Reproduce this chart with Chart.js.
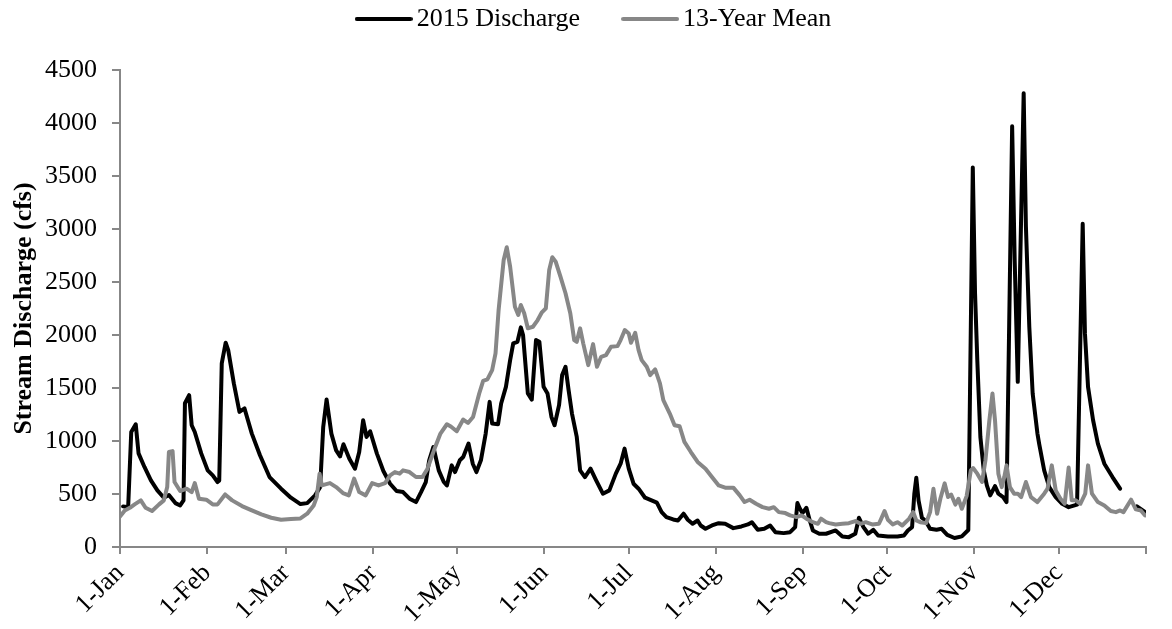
<!DOCTYPE html>
<html>
<head>
<meta charset="utf-8">
<script src="https://cdn.jsdelivr.net/npm/chart.js@4"></script>
<style>
html,body{margin:0;padding:0;background:#fff;}
#wrap{width:1172px;height:629px;position:relative;}
</style>
</head>
<body>
<div id="wrap"><canvas id="c"></canvas></div>
<script>
// ---- Data (day of year, 0 = 1-Jan) ----
const monthStarts = [0, 31, 59, 90, 120, 151, 181, 212, 243, 273, 304, 334];
const monthLabels = ['1-Jan','1-Feb','1-Mar','1-Apr','1-May','1-Jun','1-Jul','1-Aug','1-Sep','1-Oct','1-Nov','1-Dec'];
const yearEnd = 365;
const yTickValues = [0, 500, 1000, 1500, 2000, 2500, 3000, 3500, 4000, 4500];

const seriesNames = ['2015 Discharge', '13-Year Mean'];

const dischargeDays = [
1.1,2.9,4,5.6,6.6,8.7,11,13.3,15.6,17.4,
19.7,21.4,22.6,23.1,24.6,25.5,26.6,28.9,31.2,33,
34.7,35.3,36.2,37.6,38.5,40.5,42.5,44.3,46.9,49.8,
53.2,57.3,60.8,64.2,66.6,69.4,71.2,72.3,73.5,75.2,
76.9,78.3,79.5,81.6,83.6,85.1,86.5,87.7,89,91.4,
93.7,96.1,98.4,100.7,103,105.3,107.1,108.8,110,111.5,
113.4,115.2,116.3,118,119.2,120.9,122.1,124,125.5,126.8,
128.4,130.1,131.5,132.4,134.5,135.6,137.3,138.8,139.9,141.4,
142.6,143.4,145.1,146.5,148,149.2,150.7,152.1,153.5,154.6,
156.2,157.3,158.5,159.6,160.8,162.5,163.7,165.4,167.4,169.4,
171.8,174.1,176.4,178.1,179.5,181,182.7,184.5,186.8,191,
192.7,194.4,196.8,198.5,200.5,202,203.7,205.5,206.6,208.3,
210.6,213,215.3,218.2,221.1,223.4,224.8,226.9,229.2,231.3,
233.2,236.1,238.4,240.2,241,241.9,242.8,244.2,245.4,246.5,
248.8,251.2,254.6,257,259.3,261.6,262.9,264.5,266.2,268,
269.7,273.2,276.6,278.9,280.3,281.8,282.6,283.3,284.1,285.3,
286.5,288.2,290.5,292.3,294.3,296.9,299.5,301.8,303.4,304.2,
305,306.1,307.3,308.4,309.6,311.3,312.5,314.2,315.4,317.4,
318.3,319.4,321.5,322.3,323.5,324.7,326.4,327,328.8,330.6,
332.9,335.2,337.5,340.5,342.5,343.3,344.4,346.2,347.9,350.2,
353.1,355.8,358.5,361.8,364.7];

const dischargeCfs = [
383,375,1085,1158,883,755,629,534,465,490,
414,392,440,1356,1432,1149,1085,883,723,676,
613,625,1732,1927,1858,1543,1275,1307,1070,865,
660,550,465,405,414,487,565,1133,1391,1070,
912,855,969,833,739,896,1196,1038,1092,881,
717,597,528,518,456,424,518,613,818,944,
723,613,581,770,707,818,849,976,786,707,
818,1070,1369,1165,1158,1354,1511,1763,1921,1936,
2072,1999,1448,1391,1952,1936,1511,1448,1227,1149,
1338,1622,1700,1480,1259,1038,723,660,739,629,
503,534,692,786,928,739,597,550,465,418,
329,282,260,250,314,257,219,250,203,172,
203,225,219,178,194,213,234,162,172,203,
140,131,140,187,414,361,320,370,250,156,
125,125,156,99,93,125,276,187,125,162,
109,99,99,109,156,187,503,654,440,276,
250,172,162,172,115,85,100,160,3580,2394,
1763,1038,723,581,487,575,503,471,424,3970,
2708,1558,4280,3023,2078,1448,1070,976,723,565,
471,408,376,400,3050,2015,1511,1196,976,786,
660,550,null,383,329];

const meanDays = [
0,1.7,3.5,5.2,7.4,9.1,11.4,13.9,15.6,16.8,
17.4,18.7,19.4,21.4,23.7,25.5,26.6,28.1,30.7,33,
34.7,37.4,39.9,43.4,46.9,50.3,53.8,57.3,60.8,64.2,
66.6,68.9,70,71,71.8,74.7,76.9,79.3,81.4,83.3,
85.1,87.4,89.7,92,94.3,96.1,97.8,99.5,100.7,103,
105.3,107.6,109.4,111.7,114,116.3,117.7,119.8,122.1,123.8,
125.6,127.8,129.2,130.7,132.4,133.6,134.7,136.5,137.6,138.8,
140.5,141.7,142.6,143.8,145.1,146.9,148.6,150,151.5,152.7,
153.8,155,156.7,158.5,160.2,161.6,162.5,163.7,164.8,166.6,
168.3,169.7,171.2,172.9,174.7,177,178.1,179.6,181,181.8,
183.3,184.5,185.6,187.4,188.6,190.4,192.1,193.3,195.6,197.3,
199.1,200.8,203.1,205.5,208.3,210.6,213,215.3,218.2,220.5,
222.2,224,226.3,228.6,230.9,232.6,234.4,236.7,238.4,240.7,
242.5,244.2,246.5,248.3,249.4,251.2,252.3,254.6,257,259.3,
261.6,263.5,265.3,267.6,270,270.8,272,273.2,274.9,276.6,
278.3,280.7,282.2,283.3,284.7,286.8,288.2,289.4,290.7,291.9,
293.4,294.6,295.7,297.2,298.3,299.5,301.2,302.7,303.5,305,
306.7,307.9,309.3,310.4,311.3,312.5,313.7,314.6,315.4,316.6,
318.1,319.4,320.6,322.3,324.1,326.4,328.8,330,331.5,332.9,
334.6,336.1,337.5,338.6,340,341.7,343.4,344.4,345.8,347.9,
350.2,352.5,354.3,355.8,357,359.7,361.4,363.2,364.7];

const meanCfs = [
288,345,370,402,440,370,339,402,440,565,
896,905,613,528,550,518,603,456,446,402,
402,496,440,386,345,307,276,257,265,270,
314,392,471,692,581,603,565,509,487,645,
518,487,603,581,603,676,707,692,723,707,
660,660,739,912,1070,1158,1137,1092,1202,1170,
1227,1448,1567,1581,1669,1826,2236,2708,2828,2645,
2267,2189,2283,2205,2063,2078,2141,2210,2252,2614,
2734,2692,2551,2394,2205,1952,1936,2063,1921,1716,
1914,1700,1794,1810,1889,1895,1952,2047,2015,1927,
2021,1858,1763,1700,1622,1675,1543,1385,1259,1149,
1139,991,896,802,739,660,581,560,560,487,
424,446,408,376,361,376,329,320,298,282,
298,267,234,219,267,234,225,213,219,225,
245,219,234,213,219,266,339,257,213,234,
203,266,329,250,234,225,329,550,314,460,
600,471,495,400,455,361,480,723,745,692,
613,818,1196,1448,1196,692,565,660,770,565,
503,503,471,613,471,424,503,550,770,534,
456,408,749,440,440,408,503,770,503,424,
392,339,329,345,329,446,355,345,298];

// ---- Build chart ----
const FONT = "'Liberation Serif','Times New Roman',Times,serif";
Chart.defaults.font.family = FONT;
Chart.defaults.font.size = 26;
Chart.defaults.color = '#000';

const toPoints = (xs, ys) => xs.map((x, i) => ({ x: x, y: ys[i] }));
const AXIS_COLOR = '#878787';
const BLACK = '#000000';
const GRAY = '#878787';

// legend line sample (longer than the legend box so the text sits close to it)
function legendLine(color) {
  const cv = document.createElement('canvas');
  cv.width = 58; cv.height = 4;
  const g = cv.getContext('2d');
  g.fillStyle = color;
  g.beginPath();
  if (g.roundRect) { g.roundRect(0, 0, 58, 4, 2); } else { g.rect(0, 0, 58, 4); }
  g.fill();
  return cv;
}

const legendTweak = {
  id: 'legendTweak',
  beforeInit(chart) {
    const orig = chart.legend.fit;
    chart.legend.fit = function () { orig.call(this); this.height = 70; };
  },
  afterLayout(chart) {
    const l = chart.legend;
    l.left += 12; l.right += 12;
    l.top -= 44;
  }
};

new Chart(document.getElementById('c'), {
  type: 'line',
  data: {
    datasets: [
      {
        label: seriesNames[0],
        data: toPoints(dischargeDays, dischargeCfs),
        borderColor: BLACK,
        backgroundColor: BLACK,
        borderWidth: 4,
        pointRadius: 0,
        pointHoverRadius: 0,
        pointStyle: legendLine(BLACK),
        tension: 0,
        spanGaps: false,
        borderJoinStyle: 'round',
        borderCapStyle: 'round',
        order: 1
      },
      {
        label: seriesNames[1],
        data: toPoints(meanDays, meanCfs),
        borderColor: GRAY,
        backgroundColor: GRAY,
        borderWidth: 4,
        pointRadius: 0,
        pointHoverRadius: 0,
        pointStyle: legendLine(GRAY),
        tension: 0,
        borderJoinStyle: 'round',
        borderCapStyle: 'round',
        order: 0
      }
    ]
  },
  options: {
    responsive: true,
    maintainAspectRatio: false,
    animation: false,
    devicePixelRatio: 1,
    layout: { padding: { left: 0, right: 1, top: 0, bottom: 0 } },
    plugins: {
      legend: {
        position: 'top',
        labels: {
          usePointStyle: true,
          pointStyleWidth: 40,
          boxHeight: 26,
          padding: 50,
          color: '#000',
          font: { size: 26, family: FONT },
          sort: (a, b) => a.datasetIndex - b.datasetIndex
        }
      },
      tooltip: { enabled: false }
    },
    scales: {
      x: {
        type: 'linear',
        min: 0,
        max: yearEnd,
        afterBuildTicks(scale) {
          scale.ticks = monthStarts.concat([yearEnd]).map(v => ({ value: v }));
        },
        afterFit(scale) { scale.height = 82; },
        ticks: {
          autoSkip: false,
          minRotation: 45,
          maxRotation: 45,
          padding: 4,
          color: '#000',
          font: { size: 26, family: FONT },
          callback(value) {
            const i = monthStarts.indexOf(value);
            return i >= 0 ? monthLabels[i] : '';
          }
        },
        grid: {
          display: true,
          drawOnChartArea: false,
          drawTicks: true,
          tickLength: 7,
          color: AXIS_COLOR,
          lineWidth: 2
        },
        border: { display: true, color: AXIS_COLOR, width: 2 }
      },
      y: {
        type: 'linear',
        min: 0,
        max: 4500,
        afterBuildTicks(scale) {
          scale.ticks = yTickValues.map(v => ({ value: v }));
        },
        afterFit(scale) { scale.width = 120; },
        ticks: {
          padding: 15,
          color: '#000',
          font: { size: 26, family: FONT },
          callback(value) { return String(value); }
        },
        grid: {
          display: true,
          drawOnChartArea: false,
          drawTicks: true,
          tickLength: 8,
          color: AXIS_COLOR,
          lineWidth: 2
        },
        border: { display: true, color: AXIS_COLOR, width: 2 },
        title: {
          display: true,
          text: 'Stream Discharge (cfs)',
          color: '#000',
          font: { size: 26, weight: 'bold', family: FONT },
          padding: { top: 9, bottom: 0 }
        }
      }
    }
  },
  plugins: [legendTweak]
});
</script>
</body>
</html>
